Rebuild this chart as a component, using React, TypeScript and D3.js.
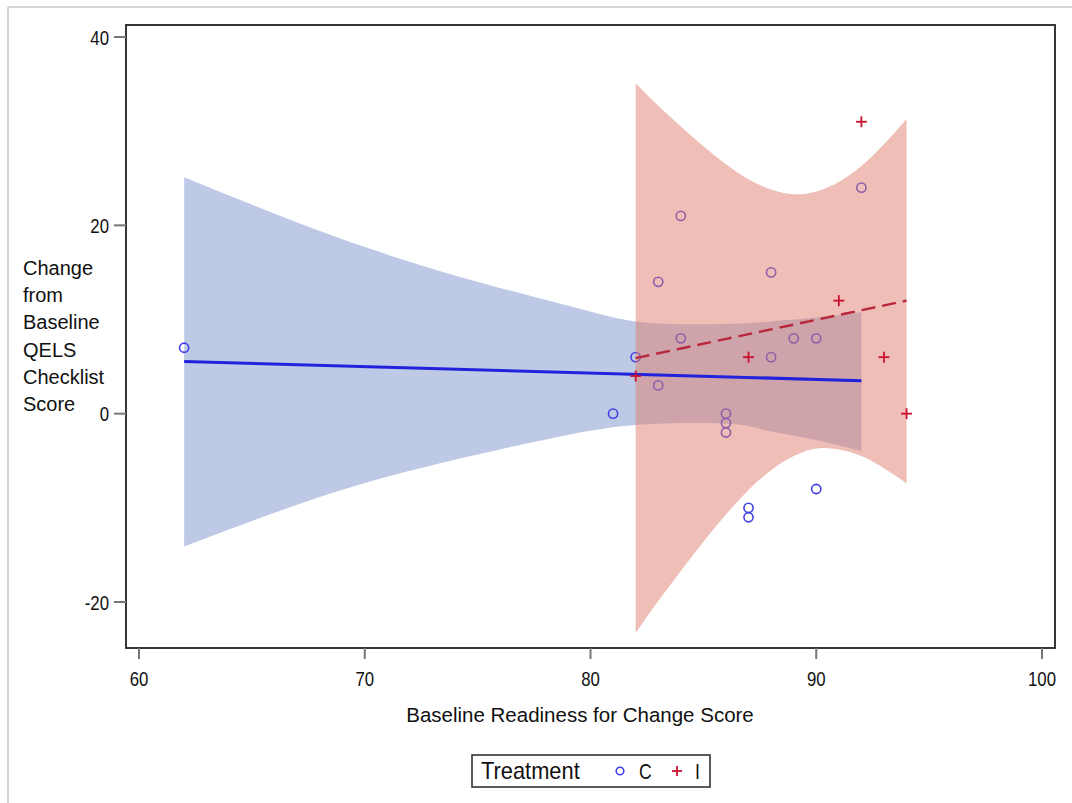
import React from "react";
import * as d3 from "d3";

// ---- Data ----
const cPointsX = [62, 82, 81, 83, 84, 84, 83, 86, 86, 86, 88, 88, 89, 90, 92, 87, 87, 90];
const cPointsY = [7, 6, 0, 14, 21, 8, 3, 0, -1, -2, 15, 6, 8, 8, 24, -10, -11, -8];

const iPointsX = [92, 91, 87, 93, 94, 82];
const iPointsY = [31, 12, 6, 6, 0, 4];

const cFitX = [62, 92];
const cFitY = [5.55, 3.5];
const iFitX = [82, 94];
const iFitY = [5.9, 12.0];

const cBandX = [62, 68.8, 74.7, 79.1, 82, 85, 87, 88, 90, 92];
const cBandUpper = [25.1, 18.7, 14.2, 11.4, 9.8, 9.5, 9.6, 9.8, 10.2, 10.8];
const cBandLower = [-14.1, -8.25, -4.5, -2.2, -1.2, -1.0, -1.3, -1.9, -2.8, -4.0];

const iBandX = [82, 83, 84, 85, 86, 87, 88, 89, 90, 91, 92, 93, 94];
const iBandUpper = [35.1, 32.7, 30.5, 28.4, 26.5, 24.9, 23.8, 23.3, 23.6, 24.6, 26.3, 28.6, 31.3];
const iBandLower = [-23.3, -19.9, -16.7, -13.6, -10.7, -8.1, -6.0, -4.5, -3.7, -3.8, -4.5, -5.8, -7.4];

const xTicks = [60, 70, 80, 90, 100];
const yTicks = [-20, 0, 20, 40];
const yLabelLines = ["Change", "from", "Baseline", "QELS", "Checklist", "Score"];
const xLabel = "Baseline Readiness for Change Score";
const legendTitle = "Treatment";
const groups = ["C", "I"];

const W = 1072;
const H = 803;
const plot = { left: 126, top: 25, right: 1055, bottom: 648 };

const font = "'Liberation Sans', Arial, sans-serif";

function NarrowText(props: {
  x: number;
  y: number;
  anchor: "start" | "middle" | "end";
  size: number;
  sx: number;
  children: React.ReactNode;
}) {
  return (
    <g transform={`translate(${props.x},${props.y}) scale(${props.sx},1)`}>
      <text x={0} y={0} textAnchor={props.anchor} fontFamily={font} fontSize={props.size} fill="#111">
        {props.children}
      </text>
    </g>
  );
}

export default function App() {
  const x = d3.scaleLinear().domain([60, 100]).range([139, 1042]);
  const y = d3.scaleLinear().domain([-20, 40]).range([602, 37]);

  const bandPath = (xs: number[], up: number[], lo: number[]) =>
    d3
      .area<number>()
      .x((_, i) => x(xs[i]))
      .y0((_, i) => y(lo[i]))
      .y1((_, i) => y(up[i]))
      .curve(d3.curveNatural)(xs) || "";

  const linePath = (xs: number[], ys: number[]) =>
    d3
      .line<number>()
      .x((_, i) => x(xs[i]))
      .y((_, i) => y(ys[i]))(xs) || "";

  const blue = "#4040e6";
  const red = "#c8102e";

  return (
    <svg
      width={W}
      height={H}
      style={{ position: "absolute", left: 0, top: 0, background: "#fff" }}
    >
      {/* page border */}
      <line x1={8} y1={7} x2={W} y2={7} stroke="#d4d4d4" strokeWidth={2} />
      <line x1={8} y1={7} x2={8} y2={H} stroke="#d4d4d4" strokeWidth={2} />

      <defs>
        <clipPath id="plotclip">
          <rect
            x={plot.left}
            y={plot.top}
            width={plot.right - plot.left}
            height={plot.bottom - plot.top}
          />
        </clipPath>
      </defs>

      <g clipPath="url(#plotclip)">
        {/* C band */}
        <path d={bandPath(cBandX, cBandUpper, cBandLower)} fill="#7d93cb" fillOpacity={0.5} />
        {/* C points */}
        {cPointsX.map((v, i) => (
          <circle
            key={"c" + i}
            cx={x(v)}
            cy={y(cPointsY[i])}
            r={4.6}
            fill="none"
            stroke={blue}
            strokeWidth={1.6}
          />
        ))}
        {/* I band */}
        <path d={bandPath(iBandX, iBandUpper, iBandLower)} fill="#de7e6f" fillOpacity={0.5} />
        {/* fit lines */}
        <path d={linePath(cFitX, cFitY)} fill="none" stroke="#2222dd" strokeWidth={3} />
        <path
          d={linePath(iFitX, iFitY)}
          fill="none"
          stroke="#b8283a"
          strokeWidth={2.4}
          strokeDasharray="14 7"
        />
        {/* I points */}
        {iPointsX.map((v, i) => {
          const cx = x(v);
          const cy = y(iPointsY[i]);
          return (
            <g key={"i" + i} stroke={red} strokeWidth={1.8}>
              <line x1={cx - 5.5} y1={cy} x2={cx + 5.5} y2={cy} />
              <line x1={cx} y1={cy - 5.5} x2={cx} y2={cy + 5.5} />
            </g>
          );
        })}
      </g>

      {/* frame */}
      <rect
        x={plot.left}
        y={plot.top}
        width={plot.right - plot.left}
        height={plot.bottom - plot.top}
        fill="none"
        stroke="#222"
        strokeWidth={1.8}
      />

      {/* y ticks */}
      {yTicks.map((t) => (
        <g key={"yt" + t}>
          <line x1={plot.left - 12} x2={plot.left} y1={y(t)} y2={y(t)} stroke="#777" strokeWidth={2} />
          <NarrowText x={plot.left - 17} y={y(t) + 7.5} anchor="end" size={21} sx={0.8}>
            {t}
          </NarrowText>
        </g>
      ))}

      {/* x ticks */}
      {xTicks.map((t) => (
        <g key={"xt" + t}>
          <line x1={x(t)} x2={x(t)} y1={plot.bottom} y2={plot.bottom + 11} stroke="#777" strokeWidth={2} />
          <NarrowText x={x(t)} y={686} anchor="middle" size={21} sx={0.8}>
            {t}
          </NarrowText>
        </g>
      ))}

      {/* axis labels */}
      <text x={580} y={722} textAnchor="middle" fontFamily={font} fontSize={20.5} fill="#111">
        {xLabel}
      </text>
      {yLabelLines.map((s, i) => (
        <text key={s} x={23} y={275 + i * 27.2} fontFamily={font} fontSize={20} fill="#111">
          {s}
        </text>
      ))}

      {/* legend */}
      <rect x={472} y={755} width={238} height={32} fill="#fff" stroke="#333" strokeWidth={1.6} />
      <NarrowText x={481} y={779} anchor="start" size={23} sx={0.95}>
        {legendTitle}
      </NarrowText>
      <circle cx={620} cy={771} r={3.8} fill="none" stroke={blue} strokeWidth={1.6} />
      <NarrowText x={639} y={779} anchor="start" size={22} sx={0.8}>
        {groups[0]}
      </NarrowText>
      <g stroke={red} strokeWidth={1.8}>
        <line x1={672} x2={682} y1={771} y2={771} />
        <line x1={677} x2={677} y1={766} y2={776} />
      </g>
      <NarrowText x={695} y={779} anchor="start" size={22} sx={0.8}>
        {groups[1]}
      </NarrowText>
    </svg>
  );
}
